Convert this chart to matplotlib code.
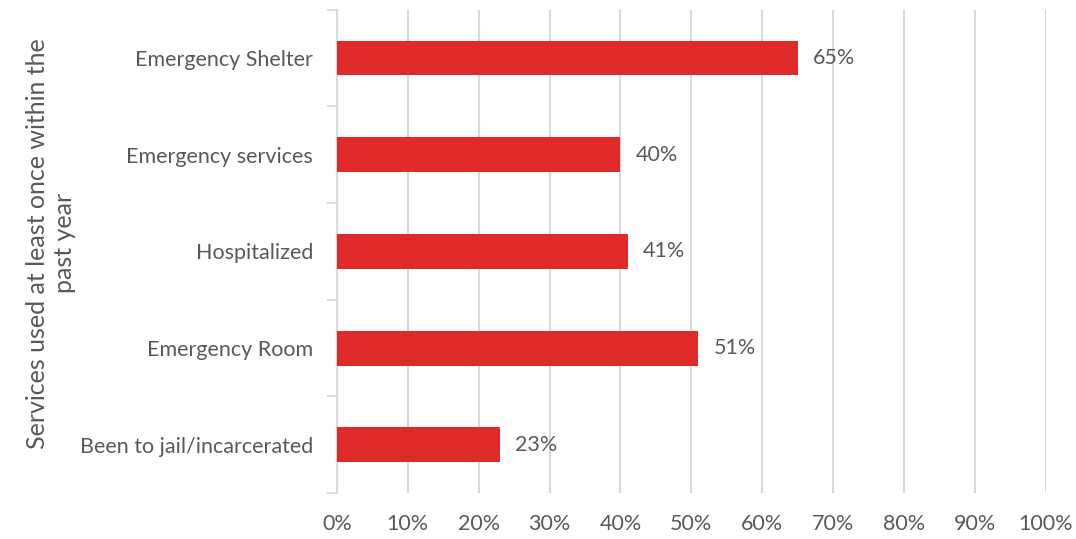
import numpy as np
import matplotlib.pyplot as plt

categories = ['Been to jail/incarcerated', 'Emergency Room', 'Hospitalized',
              'Emergency services', 'Emergency Shelter']
values = [23, 51, 41, 40, 65]
xticks = np.arange(0, 101, 10)

grey = '#595959'
grid = '#D9D9D9'
plt.rcParams['font.family'] = ['Lato', 'DejaVu Sans']

fig = plt.figure(figsize=(10.76, 5.39), dpi=100)
ax = fig.add_axes([0.313, 0.085, 0.659, 0.897])

y = np.arange(len(categories))
bars = ax.barh(y, values, height=0.36, color='#E02929', zorder=3)
for yi, v in zip(y, values):
    ax.text(v + 2.1, yi, '%d%%' % v, va='center', ha='left', fontsize=15.5, color=grey)

ax.set_xlim(0, 100)
ax.set_ylim(-0.5, len(categories) - 0.5)
ax.set_xticks(xticks)
ax.set_xticklabels(['%d%%' % t for t in xticks], fontsize=15.5, color=grey)
ax.set_yticks(y)
ax.set_yticklabels(categories, fontsize=15.5, color=grey)
ax.tick_params(axis='y', length=0, pad=17)
ax.tick_params(axis='x', length=0, pad=15)
ax.set_yticks(np.arange(-0.5, len(categories), 1), minor=True)
ax.tick_params(axis='y', which='minor', length=7, width=1.2, color=grid)

ax.xaxis.grid(True, color=grid, linewidth=1.5, zorder=0)
for s in ['top', 'right', 'bottom']:
    ax.spines[s].set_visible(False)
ax.spines['left'].set_color(grid)
ax.spines['left'].set_linewidth(1.5)

ax.set_ylabel('Services used at least once within the\npast year', fontsize=18, color=grey, labelpad=3)
ax.yaxis.label.set_y(0.517)

fig.savefig('out.png', dpi=100)
